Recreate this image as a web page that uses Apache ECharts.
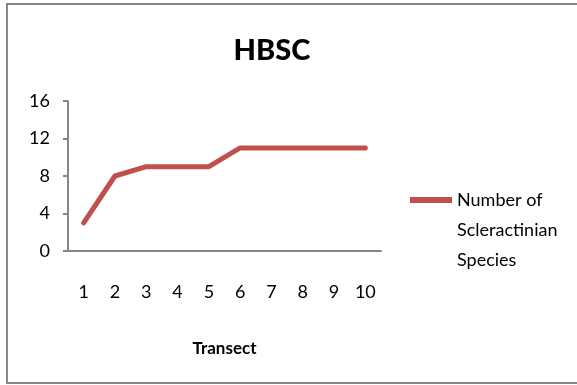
<!DOCTYPE html>
<html>
<head>
<meta charset="utf-8">
<script src="https://cdn.jsdelivr.net/npm/echarts@6/dist/echarts.min.js"></script>
<style>
  html, body { margin: 0; padding: 0; background: #fff; }
  #chart { width: 577px; height: 385px; }
</style>
</head>
<body>
<div id="chart"></div>
<script>
// Species richness per transect
const transects = ['1', '2', '3', '4', '5', '6', '7', '8', '9', '10'];
const speciesCounts = [3, 8, 9, 9, 9, 11, 11, 11, 11, 11];
const seriesName = 'Number of\nScleractinian\nSpecies';
const chartTitle = 'HBSC';
const xAxisTitle = 'Transect';

const axisGray = '#868686';
const lineRed = '#C0504D';

const chart = echarts.init(document.getElementById('chart'), null, { renderer: 'canvas' });

chart.setOption({
  animation: false,
  backgroundColor: '#fff',
  graphic: [{
    type: 'rect',
    shape: { x: 7, y: 4, width: 576, height: 379 },
    style: { fill: 'none', stroke: axisGray, lineWidth: 2 },
    silent: true
  }],
  title: {
    text: chartTitle,
    left: 267,
    top: 31,
    textAlign: 'center',
    textStyle: {
      fontFamily: 'Lato',
      fontWeight: 900,
      fontSize: 29,
      color: '#000'
    }
  },
  legend: {
    left: 405,
    top: 120,
    itemWidth: 42,
    itemHeight: 18,
    itemGap: 0,
    data: [{ name: seriesName, icon: 'path://M0,0 L42,0 L42,6 L0,6 Z' }],
    // two blank leading lines keep the swatch level with the first text line
    formatter: function (name) { return '\n\n' + name; },
    textStyle: {
      fontFamily: 'Lato',
      fontSize: 18,
      color: '#000',
      lineHeight: 30
    }
  },
  grid: { left: 68, right: 196, top: 101, bottom: 134 },
  xAxis: {
    type: 'category',
    data: transects,
    boundaryGap: true,
    name: xAxisTitle,
    nameLocation: 'middle',
    nameGap: 89,
    nameTextStyle: {
      fontFamily: 'Lato',
      fontWeight: 'bold',
      fontSize: 17,
      color: '#000'
    },
    axisLine: { lineStyle: { color: axisGray, width: 2 } },
    axisTick: { alignWithLabel: false, length: 5, lineStyle: { color: axisGray, width: 2 } },
    axisLabel: { fontFamily: 'Lato', fontSize: 18, color: '#000', margin: 32 },
    splitLine: { show: false }
  },
  yAxis: {
    type: 'value',
    min: 0,
    max: 16,
    interval: 4,
    axisLine: { show: true, lineStyle: { color: axisGray, width: 2 } },
    axisTick: { show: true, length: 5, lineStyle: { color: axisGray, width: 2 } },
    axisLabel: { fontFamily: 'Lato', fontSize: 18, color: '#000', margin: 18 },
    splitLine: { show: false }
  },
  series: [{
    name: seriesName,
    type: 'line',
    data: speciesCounts,
    symbol: 'none',
    color: lineRed,
    lineStyle: { color: lineRed, width: 5, join: 'round', cap: 'round' }
  }]
});
</script>
</body>
</html>
